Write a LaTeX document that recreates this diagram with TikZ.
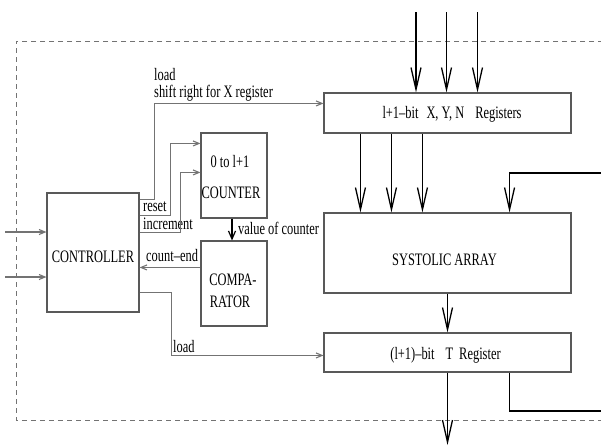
\documentclass[tikz,border=0pt]{standalone}
\usepackage{fontspec}
\setmainfont{Liberation Serif}[FakeStretch=0.71]
\usetikzlibrary{arrows.meta}
\begin{document}
\begin{tikzpicture}[x=1pt,y=-1pt,
  box/.style={draw=black!65, line width=1.1pt, inner sep=0pt, fill=white},
  txt/.style={inner sep=0pt, anchor=base, font=\fontsize{17.5}{20}\selectfont},
  ltxt/.style={txt, anchor=base west},
  ctl/.style={draw=black!55, line width=1.2pt, -{Straight Barb[length=6pt,width=5pt,line width=1.1pt]}},
  blk/.style={draw=black, line width=1.6pt, -{Straight Barb[length=22pt,width=10pt,line width=1.3pt]}},
  blksmall/.style={draw=black, line width=1.3pt, -{Straight Barb[length=8pt,width=7pt,line width=1.2pt]}},
  frame/.style={draw=black!55, line width=1pt, dash pattern=on 5pt off 4pt}
]
\useasboundingbox (0,0) rectangle (601,445);
\fill[white] (0,0) rectangle (601,445);

% dashed frame
\draw[frame] (612,41) -- (16,41) -- (16,420) -- (612,420);

% boxes
\node[box, minimum width=92pt, minimum height=119pt] (ctrl) at (93,252.5) {};
\node[box, minimum width=66pt, minimum height=85pt] (cnt) at (234,175.5) {};
\node[box, minimum width=66pt, minimum height=85pt] (cmp) at (234,283.5) {};
\node[box, minimum width=247pt, minimum height=40pt] (xyn) at (447.5,113) {};
\node[box, minimum width=247pt, minimum height=80pt] (sys) at (447.5,253) {};
\node[box, minimum width=247pt, minimum height=39pt] (treg) at (447.5,352.5) {};

% box texts
\node[txt] (tctrl) at (93,262) {CONTROLLER};
\node[txt] (tcnt1) at (230,167) {0 to l+1};
\node[txt] (tcnt2) at (231,198) {COUNTER};
\node[txt] (tcmp1) at (233,285) {COMPA-};
\node[txt] (tcmp2) at (230,307) {RATOR};
\node[txt] (txyn) at (452,118) {l+1--bit\hspace{8pt}X, Y, N\hspace{11pt}Registers};
\node[txt] (tsys) at (444.5,265) {SYSTOLIC ARRAY};
\node[txt] (ttreg) at (445.5,359) {(l+1)--bit\hspace{11pt}T\hspace{6pt}Register};

% labels
\node[ltxt] (lload) at (154,80) {load};
\node[ltxt] (lshift) at (154,97.5) {shift right for X register};
\node[ltxt] (lreset) at (143,211) {reset};
\node[ltxt] (linc) at (143,229) {increment};
\node[ltxt] (lcend) at (146,261) {count--end};
\node[ltxt] (lval) at (238,234) {value of counter};
\node[ltxt] (ltload) at (173,352) {load};

% external inputs to controller
\coordinate (in1) at (5,232);
\coordinate (in2) at (5,277);
\draw[ctl] (in1) -- (in1 -| ctrl.west);
\draw[ctl] (in2) -- (in2 -| ctrl.west);

% control lines
\draw[ctl] ([yshift=-7pt]ctrl.north east) -- ++(15,0) |- ([yshift=-11pt]xyn.north west);
\draw[ctl] ([yshift=-23pt]ctrl.north east) -- ++(31,0) |- ([yshift=-11pt]cnt.north west);
\draw[ctl] ([yshift=-40pt]ctrl.north east) -- ++(41,0) |- ([yshift=-40pt]cnt.north west);
\coordinate (ce) at ([yshift=-27pt]cmp.north west);
\draw[ctl] (ce) -- (ce -| ctrl.east);
\draw[ctl] ([yshift=20pt]ctrl.south east) -- ++(32,0) |- ([yshift=-23pt]treg.north west);

% counter to comparator
\draw[blksmall] ([xshift=-2pt]cnt.south) -- ([xshift=-2pt]cmp.north);

% data inputs
\coordinate (d1) at (416,12);
\coordinate (d2) at (446.5,12);
\coordinate (d3) at (477.5,12);
\draw[blk] (d1) -- (d1 |- xyn.north);
\draw[blk] (d2) -- (d2 |- xyn.north);
\draw[blk] (d3) -- (d3 |- xyn.north);

% registers to systolic array
\draw[blk] ([xshift=37pt]xyn.south west) -- ([xshift=37pt]sys.north west);
\draw[blk] ([xshift=68pt]xyn.south west) -- ([xshift=68pt]sys.north west);
\draw[blk] ([xshift=99pt]xyn.south west) -- ([xshift=99pt]sys.north west);

% systolic array to T register
\draw[blk] (sys.south) -- (treg.north);

% output
\coordinate (out) at (447.5,445);
\draw[blk] (treg.south) -- (out);

% feedback
\coordinate (fb1) at (606,411);
\coordinate (fb2) at (606,173);
\draw[blk] ([xshift=-62pt]treg.south east) |- (fb1) -- (fb2) -| ([xshift=-62pt]sys.north east);
\end{tikzpicture}
\end{document}
